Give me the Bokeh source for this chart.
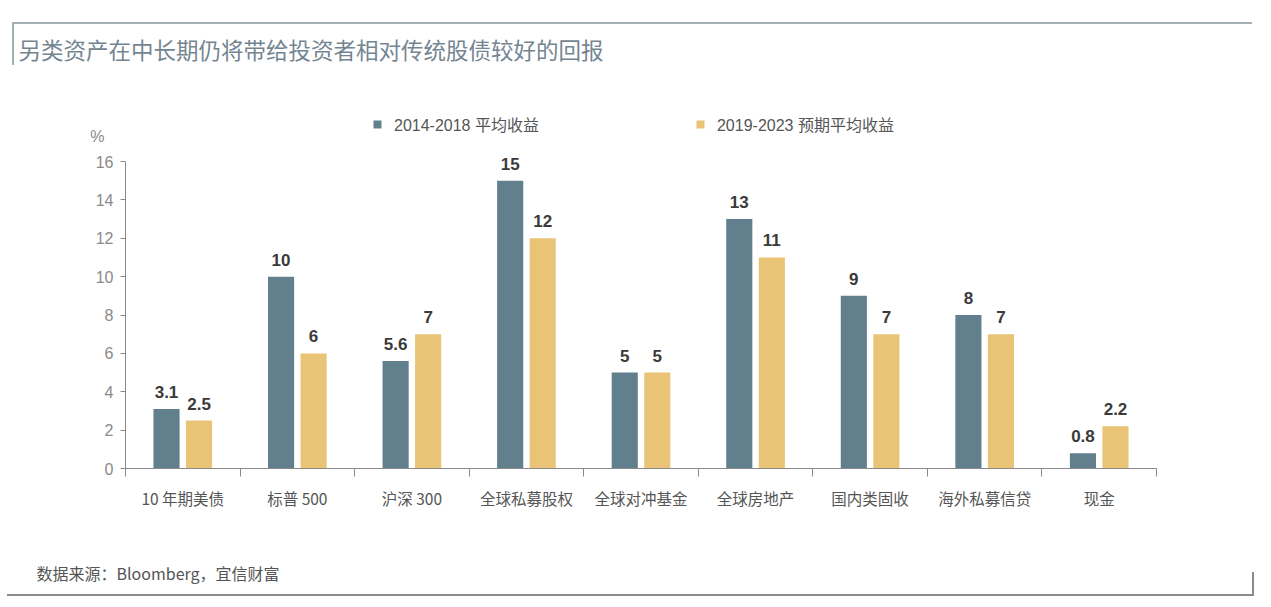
from bokeh.plotting import figure
from bokeh.models import (ColumnDataSource, FixedTicker, Range1d, Title, LinearAxis,
                          Legend, LegendItem, InlineStyleSheet)
from bokeh.core.properties import value
from bokeh.embed import file_html
from bokeh.resources import INLINE

# ---- data ----
categories = ["10 年期美债", "标普 500", "沪深 300", "全球私募股权", "全球对冲基金",
              "全球房地产", "国内类固收", "海外私募信贷", "现金"]
avg_2014_2018 = [3.1, 10, 5.6, 15, 5, 13, 9, 8, 0.8]
exp_2019_2023 = [2.5, 6, 7, 12, 5, 11, 7, 7, 2.2]
series_names = ["2014-2018 平均收益", "2019-2023 预期平均收益"]
y_ticks = [0, 2, 4, 6, 8, 10, 12, 14, 16]
unit_label = "%"

title_text = "另类资产在中长期仍将带给投资者相对传统股债较好的回报"
source_text = "数据来源：Bloomberg，宜信财富"

# ---- layout constants (pixels) ----
W, H = 1271, 607
AX_L, AX_R, AX_T, AX_B = 125, 1156, 161, 468   # pixel box of x 0..9, y 0..16
FRAME_T = 86
NCAT = len(categories)
YMAX = 16
UY = (AX_B - AX_T) / YMAX


def Y(py):
    return (AX_B - py) / UY


BLUE = "#627f8d"
YELLOW = "#e9c477"
FONT = "'Liberation Sans', 'Noto Sans CJK SC', sans-serif"
CJK = "'Noto Sans CJK SC', 'Liberation Sans', sans-serif"

p = figure(width=W, height=H, output_backend="svg", toolbar_location=None,
           x_range=Range1d(0, NCAT), y_range=Range1d(0, Y(FRAME_T)),
           min_border_left=AX_L, min_border_right=W - AX_R,
           min_border_top=FRAME_T, min_border_bottom=H - AX_B)
p.outline_line_color = None
p.grid.grid_line_color = None
p.background_fill_color = "white"
p.border_fill_color = "white"

centers = [i + 0.5 for i in range(NCAT)]
off = 0.142
bw = 0.228
src1 = ColumnDataSource(dict(x=[c - off for c in centers], top=avg_2014_2018,
                             lab=[f"{v:g}" for v in avg_2014_2018]))
src2 = ColumnDataSource(dict(x=[c + off for c in centers], top=exp_2019_2023,
                             lab=[f"{v:g}" for v in exp_2019_2023]))

r1 = p.vbar(x="x", top="top", width=bw, bottom=0, source=src1,
            fill_color=BLUE, line_color=None)
r2 = p.vbar(x="x", top="top", width=bw, bottom=0, source=src2,
            fill_color=YELLOW, line_color=None)

for s in (src1, src2):
    p.text(x="x", y="top", text="lab", source=s, text_align="center",
           text_baseline="alphabetic", y_offset=-17,
           text_font=value(FONT), text_font_size="17px",
           text_font_style="bold", text_color="#3a3a3a")

# x axis
xa = p.xaxis[0]
xa.ticker = FixedTicker(ticks=centers, minor_ticks=list(range(NCAT + 1)))
xa.major_label_overrides = {c: categories[i] for i, c in enumerate(centers)}
xa.major_tick_out = 0
xa.major_tick_in = 0
xa.minor_tick_out = 8
xa.minor_tick_in = 0
xa.minor_tick_line_color = "#8a8a8a"
xa.axis_line_color = "#8a8a8a"
xa.major_label_standoff = 10
xa.major_label_text_font = CJK
xa.major_label_text_font_size = "15.5px"
xa.major_label_text_color = "#555555"
xa.axis_label = " "
xa.axis_label_standoff = 5
xa.axis_label_text_font_size = "16px"

# y axis
ya = p.yaxis[0]
ya.bounds = (0, YMAX)
ya.ticker = FixedTicker(ticks=y_ticks)
ya.major_tick_out = 5
ya.major_tick_in = 0
ya.minor_tick_line_color = None
ya.major_tick_line_color = "#8a8a8a"
ya.axis_line_color = "#8a8a8a"
ya.major_label_standoff = 7
ya.major_label_text_font = FONT
ya.major_label_text_font_size = "16px"
ya.major_label_text_color = "#8a8a8a"

# unit ("%") shown as a label-only axis above the value axis
unit_pos = 17.3
ua = LinearAxis(ticker=FixedTicker(ticks=[unit_pos]),
                major_label_overrides={unit_pos: unit_label})
ua.axis_line_color = None
ua.major_tick_line_color = None
ua.minor_tick_line_color = None
ua.major_tick_out = 0
ua.major_tick_in = 0
ua.major_label_standoff = -12
ua.major_label_text_font = FONT
ua.major_label_text_font_size = "16px"
ua.major_label_text_color = "#8a8a8a"
p.add_layout(ua, "left")

# title
p.title.text = title_text
p.title.align = "left"
p.title.offset = 18 - AX_L
p.title.standoff = 44
p.title.text_font = CJK
p.title.text_font_size = "22.5px"
p.title.text_font_style = "normal"
p.title.text_color = "#748592"

# legend
leg = Legend(items=[LegendItem(label=series_names[0], renderers=[r1]),
                    LegendItem(label=series_names[1], renderers=[r2])],
             orientation="horizontal", location=(372 - AX_L, AX_B - 136))
leg.border_line_color = None
leg.background_fill_alpha = 0
leg.padding = 0
leg.margin = 0
leg.spacing = 156
leg.glyph_width = 10
leg.glyph_height = 10
leg.label_height = 10
leg.label_standoff = 12
leg.label_text_font = FONT
leg.label_text_font_size = "16px"
leg.label_text_color = "#555555"
p.add_layout(leg)

# source note
p.add_layout(Title(text=source_text, align="left", offset=36 - AX_L, standoff=44,
                   text_font=CJK, text_font_size="16px", text_font_style="normal",
                   text_color="#555555"), "below")

# decorative frame lines (page styling)
css = """
:host { position: relative; }
:host::before { content: ""; position: absolute; left: 12px; top: 22px; width: 1240px;
  height: 43px; border-top: 2px solid #a3b0b5; border-left: 2px solid #a3b0b5;
  box-sizing: border-box; z-index: 10; pointer-events: none; }
:host::after { content: ""; position: absolute; left: 7px; top: 572px; width: 1247px;
  height: 24px; border-bottom: 2px solid #8c8c8c; border-right: 2px solid #8c8c8c;
  box-sizing: border-box; z-index: 10; pointer-events: none; }
"""
p.stylesheets = [InlineStyleSheet(css=css)]

open("out.html", "w").write(file_html(p, INLINE))
